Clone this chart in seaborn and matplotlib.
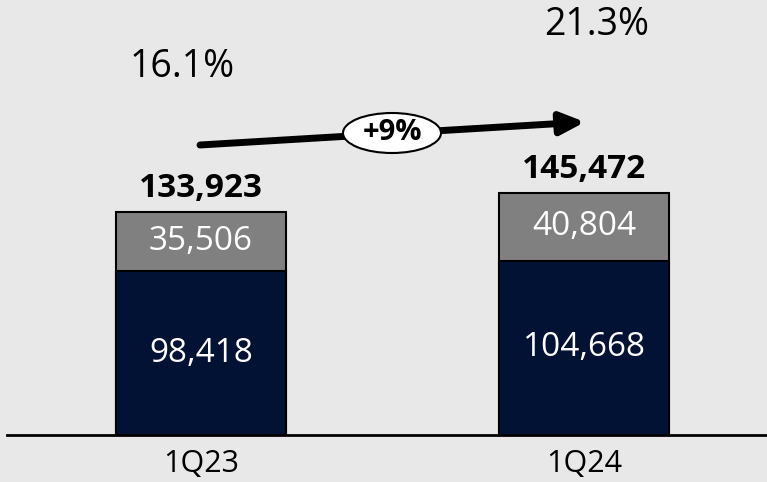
import matplotlib
matplotlib.use("Agg")
import matplotlib.pyplot as plt
from matplotlib.patches import Ellipse
import seaborn as sns
import pandas as pd

# Quarterly figures
quarters = ["1Q23", "1Q24"]
base_values = [98418, 104668]
top_values = [35506, 40804]
totals = [133923, 145472]
margins = ["16.1%", "21.3%"]
growth_label = "+9%"

BG = "#E8E8E8"
NAVY = "#021235"
GREY = "#808080"

sns.set_theme(style="white")
plt.rcParams["font.family"] = ["Open Sans", "DejaVu Sans"]

df = pd.DataFrame({"quarter": quarters, "base": base_values,
                   "top": top_values, "total": totals})

fig = plt.figure(figsize=(7.67, 4.82), dpi=100, facecolor=BG)
ax = fig.add_axes([0, 47 / 482, 1, 435 / 482])
ax.set_facecolor(BG)

bar_w = 170 / 383
# full stack (grey) underneath, base segment (navy) drawn over it
sns.barplot(data=df, x="quarter", y="total", color=GREY, saturation=1,
            width=bar_w, edgecolor="black", linewidth=1.5, ax=ax)
sns.barplot(data=df, x="quarter", y="base", color=NAVY, saturation=1,
            width=bar_w, edgecolor="black", linewidth=1.5, ax=ax)

x_left = -201 / 383
x_right = (767 - 201) / 383
ax.set_xlim(x_left, x_right)
ax.set_ylim(0, 261261)

for s in ["top", "right", "left"]:
    ax.spines[s].set_visible(False)
ax.spines["bottom"].set_color("black")
ax.spines["bottom"].set_linewidth(2)
ax.spines["bottom"].set_bounds((7 - 201) / 383, x_right)

ax.set_yticks([])
ax.set_xlabel("")
ax.set_ylabel("")
ax.tick_params(axis="x", length=0, pad=10, labelsize=22, colors="black")

for i in range(len(quarters)):
    b, t, tot = base_values[i], top_values[i], totals[i]
    ax.text(i, b / 2, f"{b:,}", ha="center", va="center", color="white",
            fontsize=24)
    ax.text(i, b + t / 2, f"{t:,}", ha="center", va="center", color="white",
            fontsize=24)
    ax.text(i, tot + 4000, f"{tot:,}", ha="center", va="bottom",
            color="black", fontsize=24, fontweight="bold")

# margin percentages
fig.text(182 / 767, 1 - 67 / 482, margins[0], ha="center", va="center",
         fontsize=27, color="black")
fig.text(597 / 767, 1 - 25 / 482, margins[1], ha="center", va="center",
         fontsize=27, color="black")

# growth arrow with bubble
fig_ax = fig.add_axes([0, 0, 1, 1], facecolor="none")
fig_ax.set_xlim(0, 767)
fig_ax.set_ylim(482, 0)
fig_ax.axis("off")
fig_ax.annotate("", xy=(585, 122), xytext=(200, 145),
                arrowprops=dict(arrowstyle="-|>,head_length=1.2,head_width=0.55",
                                color="black", lw=5, shrinkA=0, shrinkB=0))
fig_ax.add_patch(Ellipse((392, 133), 98, 40, facecolor="white",
                         edgecolor="black", lw=1.5, zorder=3))
fig_ax.text(392, 133, growth_label, ha="center", va="center", fontsize=21,
            fontweight="bold", color="black", zorder=4)

fig.savefig("out.png", dpi=100, facecolor=BG)
